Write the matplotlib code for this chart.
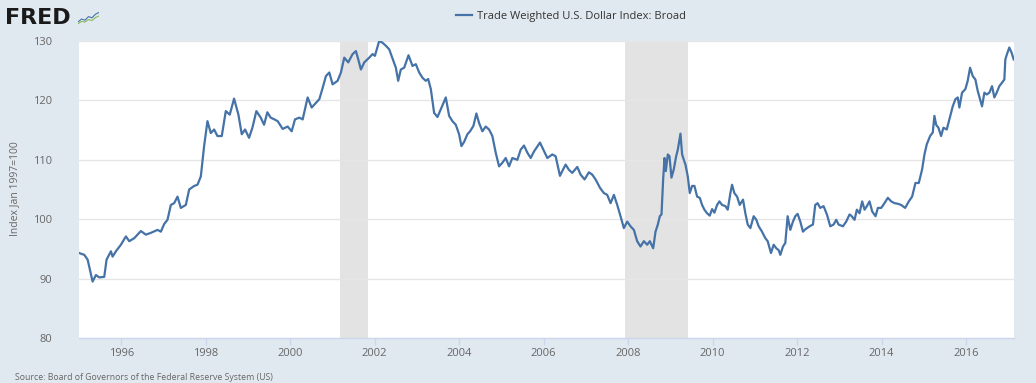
"""
FRED-style chart: Trade Weighted U.S. Dollar Index: Broad, 1995-2017.
Values read off the reference picture (decimal years).
"""

import matplotlib

matplotlib.use("Agg")
import matplotlib.pyplot as plt
from matplotlib.lines import Line2D

plt.rcParams["font.family"] = ["Open Sans", "DejaVu Sans"]

# --- data -------------------------------------------------------------------

years = [
    1995.007, 1995.125, 1995.204, 1995.259, 1995.322, 1995.401, 1995.48, 1995.598,
    1995.653, 1995.756, 1995.795, 1995.874, 1995.992, 1996.11, 1996.189, 1996.307,
    1996.465, 1996.583, 1996.701, 1996.859, 1996.938, 1997.017, 1997.095, 1997.174,
    1997.253, 1997.332, 1997.411, 1997.529, 1997.608, 1997.726, 1997.805, 1997.884,
    1997.962, 1998.041, 1998.12, 1998.199, 1998.277, 1998.38, 1998.475, 1998.569,
    1998.671, 1998.774, 1998.853, 1998.931, 1999.026, 1999.105, 1999.199, 1999.302,
    1999.381, 1999.459, 1999.538, 1999.625, 1999.704, 1999.822, 1999.94, 2000.035,
    2000.113, 2000.216, 2000.295, 2000.413, 2000.508, 2000.61, 2000.689, 2000.768,
    2000.846, 2000.925, 2001.004, 2001.122, 2001.201, 2001.28, 2001.374, 2001.477,
    2001.556, 2001.611, 2001.674, 2001.753, 2001.871, 2001.95, 2002.005, 2002.107,
    2002.186, 2002.265, 2002.344, 2002.446, 2002.501, 2002.556, 2002.619, 2002.698,
    2002.801, 2002.895, 2002.974, 2003.053, 2003.132, 2003.21, 2003.266, 2003.329,
    2003.407, 2003.486, 2003.565, 2003.683, 2003.762, 2003.841, 2003.92, 2003.998,
    2004.054, 2004.116, 2004.195, 2004.258, 2004.337, 2004.408, 2004.471, 2004.55,
    2004.629, 2004.708, 2004.786, 2004.865, 2004.944, 2005.023, 2005.102, 2005.181,
    2005.259, 2005.378, 2005.456, 2005.535, 2005.614, 2005.693, 2005.771, 2005.913,
    2005.992, 2006.087, 2006.205, 2006.284, 2006.386, 2006.441, 2006.52, 2006.599,
    2006.678, 2006.796, 2006.875, 2006.969, 2007.072, 2007.151, 2007.229, 2007.332,
    2007.426, 2007.505, 2007.584, 2007.663, 2007.742, 2007.82, 2007.899, 2007.978,
    2008.057, 2008.136, 2008.214, 2008.293, 2008.372, 2008.451, 2008.514, 2008.593,
    2008.648, 2008.703, 2008.75, 2008.79, 2008.829, 2008.861, 2008.892, 2008.939,
    2008.979, 2009.026, 2009.081, 2009.137, 2009.176, 2009.239, 2009.278, 2009.318,
    2009.357, 2009.412, 2009.459, 2009.515, 2009.57, 2009.633, 2009.696, 2009.751,
    2009.806, 2009.869, 2009.932, 2009.988, 2010.043, 2010.106, 2010.161, 2010.224,
    2010.303, 2010.358, 2010.421, 2010.46, 2010.515, 2010.579, 2010.642, 2010.72,
    2010.775, 2010.831, 2010.894, 2010.972, 2011.035, 2011.091, 2011.17, 2011.248,
    2011.303, 2011.382, 2011.445, 2011.508, 2011.563, 2011.603, 2011.666, 2011.721,
    2011.776, 2011.839, 2011.902, 2011.957, 2012.012, 2012.076, 2012.139, 2012.194,
    2012.296, 2012.375, 2012.43, 2012.485, 2012.548, 2012.627, 2012.706, 2012.785,
    2012.864, 2012.927, 2012.982, 2013.085, 2013.163, 2013.242, 2013.281, 2013.36,
    2013.415, 2013.478, 2013.541, 2013.597, 2013.652, 2013.715, 2013.778, 2013.857,
    2013.912, 2013.991, 2014.069, 2014.148, 2014.227, 2014.306, 2014.385, 2014.463,
    2014.558, 2014.645, 2014.723, 2014.802, 2014.881, 2014.96, 2015.015, 2015.07,
    2015.149, 2015.212, 2015.251, 2015.291, 2015.346, 2015.409, 2015.464, 2015.543,
    2015.606, 2015.685, 2015.748, 2015.803, 2015.842, 2015.905, 2015.984, 2016.039,
    2016.095, 2016.158, 2016.221, 2016.276, 2016.331, 2016.378, 2016.434, 2016.489,
    2016.552, 2016.615, 2016.67, 2016.725, 2016.788, 2016.851, 2016.906, 2016.93,
    2016.969, 2017.024, 2017.08, 2017.127,
]

index_values = [
    94.3, 94.0, 93.2, 91.5, 89.5, 90.6, 90.2, 90.3,
    93.2, 94.6, 93.7, 94.6, 95.7, 97.1, 96.3, 96.8,
    98.0, 97.4, 97.7, 98.2, 97.9, 99.2, 99.9, 102.4,
    102.7, 103.8, 101.9, 102.4, 105.0, 105.6, 105.8, 107.2,
    112.3, 116.5, 114.5, 115.1, 114.0, 114.0, 118.2, 117.6,
    120.3, 117.6, 114.3, 115.1, 113.7, 115.4, 118.2, 117.1,
    115.9, 118.0, 117.1, 116.8, 116.5, 115.2, 115.6, 114.8,
    116.8, 117.1, 116.8, 120.5, 118.8, 119.6, 120.2, 122.1,
    124.1, 124.7, 122.7, 123.3, 124.7, 127.2, 126.4, 127.8,
    128.3, 126.9, 125.2, 126.4, 127.2, 127.8, 127.5, 130.0,
    129.7, 129.2, 128.6, 126.6, 125.5, 123.3, 125.2, 125.5,
    127.6, 125.8, 126.1, 124.7, 123.8, 123.3, 123.6, 121.9,
    117.9, 117.2, 118.5, 120.5, 117.4, 116.5, 115.9, 114.3,
    112.3, 113.0, 114.3, 114.8, 115.7, 117.8, 116.2, 114.8,
    115.6, 115.1, 114.0, 111.2, 108.9, 109.5, 110.3, 108.9,
    110.3, 110.0, 111.7, 112.4, 111.2, 110.3, 111.4, 112.9,
    111.7, 110.3, 110.9, 110.6, 107.3, 108.1, 109.2, 108.3,
    107.8, 108.8, 107.5, 106.7, 107.9, 107.5, 106.7, 105.3,
    104.4, 104.1, 102.7, 104.1, 102.4, 100.5, 98.5, 99.6,
    98.8, 98.2, 96.3, 95.4, 96.3, 95.7, 96.3, 95.1,
    97.9, 99.1, 100.5, 100.8, 106.7, 110.3, 108.1, 110.9,
    110.6, 107.0, 108.4, 110.6, 111.7, 114.4, 110.9, 110.0,
    109.2, 107.2, 104.4, 105.6, 105.6, 103.8, 103.6, 102.4,
    101.6, 101.0, 100.6, 101.7, 101.1, 102.4, 103.0, 102.4,
    102.2, 101.6, 104.4, 105.8, 104.4, 103.8, 102.4, 103.3,
    101.0, 99.1, 98.5, 100.5, 99.9, 98.8, 97.9, 96.8,
    96.3, 94.3, 95.7, 95.1, 94.8, 94.0, 95.4, 96.0,
    100.5, 98.2, 99.6, 100.5, 100.9, 99.6, 97.9, 98.3,
    98.8, 99.1, 102.4, 102.7, 101.9, 102.2, 100.8, 98.8,
    99.1, 99.9, 99.1, 98.8, 99.6, 100.8, 100.6, 99.9,
    101.6, 101.0, 103.0, 101.6, 102.2, 103.0, 101.3, 100.5,
    101.9, 101.9, 102.7, 103.6, 103.0, 102.7, 102.6, 102.4,
    101.9, 103.0, 103.8, 106.1, 106.1, 108.4, 110.9, 112.6,
    114.0, 114.6, 117.4, 115.9, 115.4, 114.0, 115.4, 115.1,
    116.8, 119.0, 120.2, 120.5, 118.8, 121.3, 121.9, 123.3,
    125.5, 124.1, 123.5, 121.6, 120.2, 119.0, 121.3, 121.0,
    121.3, 122.4, 120.5, 121.3, 122.4, 123.0, 123.5, 126.9,
    127.8, 128.9, 128.0, 126.9,
]

# NBER recessions shown as grey bands
recession_starts = [2001.17, 2007.92]
recession_ends = [2001.85, 2009.42]

x_ticks = [1996, 1998, 2000, 2002, 2004, 2006, 2008, 2010, 2012, 2014, 2016]
y_ticks = [80, 90, 100, 110, 120, 130]

series_label = "Trade Weighted U.S. Dollar Index: Broad"
y_label = "Index Jan 1997=100"
source_text = "Source: Board of Governors of the Federal Reserve System (US)"

# small sparkline next to the FRED wordmark
logo_x = [0, 1, 2, 3, 4, 5, 6]
logo_blue = [1.0, 2.0, 1.6, 2.8, 2.4, 3.6, 4.2]
logo_green = [0.4, 1.2, 1.0, 1.8, 1.5, 2.5, 3.0]

# --- style ------------------------------------------------------------------

BG = "#e1e9f0"
LINE = "#4572a7"
GRID = "#e6e6e6"
AXIS = "#ccd6eb"
TEXT = "#666666"

fig = plt.figure(figsize=(10.36, 3.83), dpi=100)
fig.patch.set_facecolor(BG)

ax = fig.add_axes([79 / 1036, 1 - 338 / 383, 935 / 1036, 297 / 383])
ax.set_facecolor("white")

for start, end in zip(recession_starts, recession_ends):
    ax.axvspan(start, end, color="#e3e3e3", lw=0, zorder=1)

for y in y_ticks[1:]:
    ax.axhline(y, color=GRID, lw=1.0, zorder=1.5)

ax.plot(years, index_values, color=LINE, lw=1.6, zorder=3, solid_joinstyle="round")

ax.set_xlim(1995.0, 2017.135)
ax.set_ylim(80, 130)
ax.set_xticks(x_ticks)
ax.set_yticks(y_ticks)

for side in ("top", "left", "right"):
    ax.spines[side].set_visible(False)
ax.spines["bottom"].set_color(AXIS)
ax.spines["bottom"].set_linewidth(1.0)

ax.tick_params(axis="x", colors=AXIS, length=5, width=1, labelcolor=TEXT,
               labelsize=8, pad=2)
ax.tick_params(axis="y", length=0, labelcolor=TEXT, labelsize=8, pad=19)

fig.text(15 / 1036, 1 - 189 / 383, y_label, rotation=90, ha="center",
         va="center", fontsize=7.5, color=TEXT)

# legend at the top
handle = Line2D([], [], color=LINE, lw=1.6)
fig.legend([handle], [series_label], loc="center",
           bbox_to_anchor=(571 / 1036, 1 - 16 / 383), frameon=False,
           fontsize=8, handlelength=1.4, handletextpad=0.5,
           labelcolor="#333333")

# FRED wordmark + little chart icon
fig.text(5 / 1036, 1 - 18 / 383, "FRED", fontsize=16, fontweight="bold",
         color="#1a1a1a", va="center", ha="left", family="DejaVu Sans")
icon = fig.add_axes([78 / 1036, 1 - 25 / 383, 21 / 1036, 15 / 383])
icon.set_facecolor("#d9dde2")
icon.plot(logo_x, logo_blue, color="#4572a7", lw=0.8)
icon.plot(logo_x, logo_green, color="#8dbb5a", lw=0.8)
icon.set_xlim(0, 6)
icon.set_ylim(0, 5)
icon.axis("off")

fig.text(15 / 1036, 1 - 377 / 383, source_text, fontsize=6.3, color=TEXT,
         va="center", ha="left")

fig.savefig("out.png", dpi=100, facecolor=BG)
